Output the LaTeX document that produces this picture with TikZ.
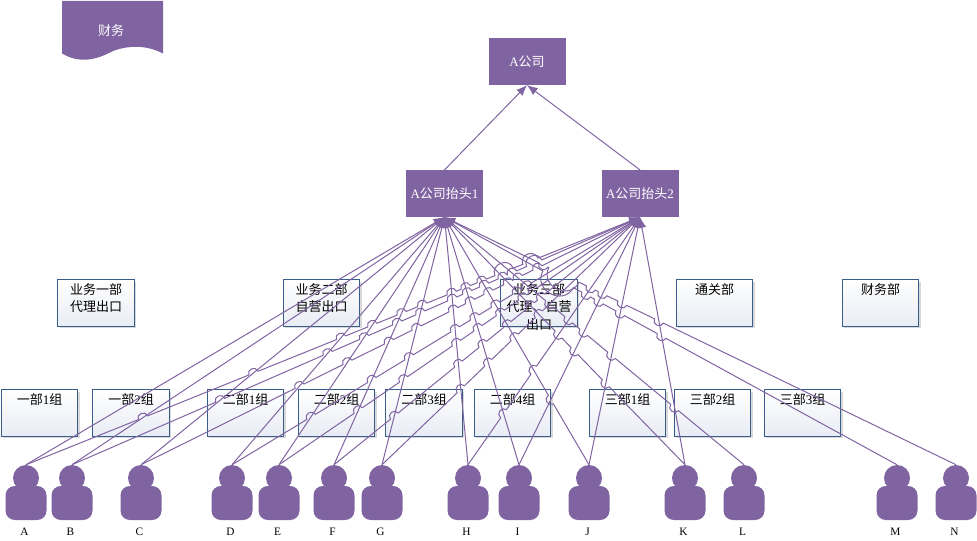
\documentclass[tikz,border=0pt]{standalone}
\usepackage{fontspec}
\setmainfont{Noto Sans CJK SC}
\newfontfamily\latinfont{Liberation Serif}
\usetikzlibrary{arrows.meta,shadows}
\definecolor{wirepurple}{HTML}{8064A2}
\definecolor{boxblue}{HTML}{385D8A}
\definecolor{boxpale}{HTML}{E8ECF4}
\newcommand{\la}[1]{{\latinfont #1}}
\newcommand{\boxtop}{217}
\newcommand{\boxspan}{248}
\newcommand{\hoprad}{5}
\newcommand{\flushhop}{%
	\pgfmathsetmacro\ax{\wiretop+\pstart*\ux}%
	\pgfmathsetmacro\ay{\boxtop+\pstart*\uy}%
	\pgfmathsetmacro\dx{\wiretop+\pfin*\ux}%
	\pgfmathsetmacro\dy{\boxtop+\pfin*\uy}%
	\pgfmathsetmacro\nx{-0.625*(\pfin-\pstart)*\uy}%
	\pgfmathsetmacro\ny{0.625*(\pfin-\pstart)*\ux}%
	\pgfmathsetmacro\bx{\ax+\nx}%
	\pgfmathsetmacro\by{\ay+\ny}%
	\pgfmathsetmacro\ex{\dx+\nx}%
	\pgfmathsetmacro\ey{\dy+\ny}%
	\xdef\hops{\hops -- (\ax,\ay) .. controls (\bx,\by) and (\ex,\ey) .. (\dx,\dy)}%
}
% wire from a head box to a person, with a hop at each crossing where it is the flatter line
\newcommand{\hopwire}[6]{%
	\gdef\hops{}%
	\gdef\haspend{0}%
	\gdef\pfin{0}%
	\gdef\pstart{0}%
	\def\wiretop{#2}%
	\pgfmathsetmacro\len{100*sqrt((#5-#2)/100*(#5-#2)/100+\boxspan/100*\boxspan/100)}
	\pgfmathsetmacro\ux{(#5-#2)/\len}
	\pgfmathsetmacro\uy{\boxspan/\len}
	\foreach \othername/\ox in {#6} {
		\pgfmathsetmacro\tv{(#3-#2)/((#5-#2)-(\ox-#3))}
		\pgfmathtruncatemacro\ishop{(\tv>0 && \tv<1 && abs(#5-#2)>abs(\ox-#3)) ? 1 : 0}
		\ifnum\ishop=1
			\pgfmathsetmacro\dista{\tv*\len-\hoprad}
			\pgfmathsetmacro\distb{\tv*\len+\hoprad}
			\pgfmathtruncatemacro\overlap{(\haspend==1 && \dista<\pfin) ? 1 : 0}
			\ifnum\overlap=1
				\xdef\pfin{\distb}
			\else
				\ifnum\haspend=1 \flushhop\fi
				\xdef\pstart{\dista}
				\xdef\pfin{\distb}
				\gdef\haspend{1}
			\fi
		\fi
	}
	\ifnum\haspend=1 \flushhop\fi
	\draw[wire,{Latex[length=8pt,width=6.5pt]}-] (#1.south) \hops -- (p#4.north);
}
\tikzset{
	headbox/.style={draw=none,fill=wirepurple,text=white,inner sep=0pt,minimum width=57.75pt,minimum height=35pt,font=\fontsize{9.75}{12}\selectfont},
	groupbox/.style={draw=boxblue,line width=0.75pt,top color=white,bottom color=boxpale,inner sep=0pt,minimum width=57.5pt,minimum height=34.75pt,drop shadow={shadow xshift=1.5pt,shadow yshift=-1.5pt,opacity=0.15,fill=black}},
	boxtext/.style={inner sep=0pt,align=center,font=\fontsize{9.75}{13.2}\selectfont,label distance=-32.75pt},
	wire/.style={draw=wirepurple,line width=0.75pt},
	personpart/.style={fill=wirepurple,draw=none,inner sep=0pt},
	personname/.style={inner sep=0pt,font=\latinfont\fontsize{8.5}{10}\selectfont}
}
\begin{document}
\begin{tikzpicture}[x=0.75pt,y=-0.75pt]
	\useasboundingbox (0,0) rectangle (977,541);

	\fill[wirepurple] (62,1) -- (163,1) -- (163,53.5) .. controls (150,46.5) and (132,44) .. (113,51) .. controls (96,60) and (80,64) .. (62,53.5) -- cycle;
	\node[text=white,inner sep=0pt,font=\fontsize{9.75}{12}\selectfont] (finance) at (111,31) {财务};

	\foreach \id/\x/\y/\txt in {
		sales1/96/303/{业务一部\\代理出口},
		sales2/321.5/303/{业务二部\\自营出口},
		sales3/539/303/{业务三部\\代理、自营\\出口},
		customs/714.5/303/通关部,
		accounts/880.5/303/财务部,
		g11/39.5/413/{一部\la{1}组},
		g12/131/413/{一部\la{2}组},
		g21/245.5/413/{二部\la{1}组},
		g22/336.5/413/{二部\la{2}组},
		g23/424/413/{二部\la{3}组},
		g24/512.5/413/{二部\la{4}组},
		g31/627.5/413/{三部\la{1}组},
		g32/712.5/413/{三部\la{2}组},
		g33/802.5/413/{三部\la{3}组}} {
		\node[groupbox,label={[boxtext]below:\txt}] (\id) at (\x,\y) {};
	}

	\node[headbox] (top) at (527,61.5) {\la{A}公司};
	\node[headbox] (hdr1) at (444.5,193.5) {\la{A}公司抬头\la{1}};
	\node[headbox] (hdr2) at (640,193.5) {\la{A}公司抬头\la{2}};

	\foreach \name/\x in {A/26,B/72,C/141,D/232,E/279,F/334,G/382,H/468,I/519,J/589,K/685,L/744,M/897,N/956} {
		\node[personpart,circle,minimum size=19.5pt] (p\name) at (\x,478) {};
		\node[personpart,rounded corners=7pt,minimum width=30.75pt,minimum height=25.5pt] (b\name) at (\x,503) {};
		\node[personname] (n\name) at (\x-1.5,532) {\name};
	}

	\draw[wire,-{Latex[length=8pt,width=6.5pt]}] (hdr1.north) -- (top.south);
	\draw[wire,-{Latex[length=8pt,width=6.5pt]}] (hdr2.north) -- (top.south);

	\foreach \name/\x in {A/26,B/72,C/141,D/232,E/279,F/334,G/382,H/468,I/519,J/589,K/685,L/744,M/897,N/956} {
		\hopwire{hdr1}{444.5}{640}{\name}{\x}{A/26,B/72,C/141,D/232,E/279,F/334,G/382,H/468,I/519,J/589,K/685}
	}
	\foreach \name/\x in {A/26,B/72,C/141,D/232,E/279,F/334,G/382,H/468,I/519,J/589,K/685} {
		\hopwire{hdr2}{640}{444.5}{\name}{\x}{N/956,M/897,L/744,K/685,J/589,I/519,H/468,G/382,F/334,E/279,D/232,C/141,B/72,A/26}
	}
\end{tikzpicture}
\end{document}
